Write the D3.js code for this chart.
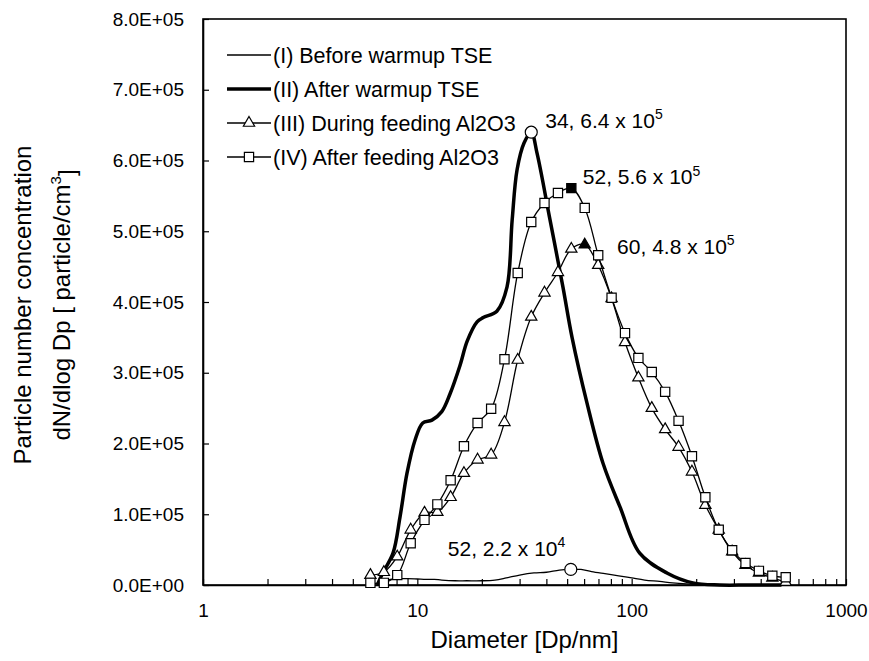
<!DOCTYPE html>
<html>
<head>
<meta charset="utf-8">
<script src="https://cdnjs.cloudflare.com/ajax/libs/d3/7.8.5/d3.min.js"></script>
<style>
  body { margin: 0; background: #fff; }
  text { font-family: Arial, "Liberation Sans", sans-serif; fill: #000; }
</style>
</head>
<body>
<div id="chart"></div>
<script>
// SMPS channel diameters (nm) used by the two marker series
var channels = [6.04, 6.98, 8.06, 9.31, 10.8, 12.4, 14.3, 16.5, 19.1, 22.1, 25.5, 29.4,
  34.0, 39.2, 45.3, 52.3, 60.4, 69.8, 80.6, 93.1, 107.5, 124.1, 143.3, 165.5, 191.1,
  220.7, 254.8, 294.3, 339.8, 392.4, 453.2, 523.3];

// (III) during feeding Al2O3
var duringFeeding = [0.14e5, 0.18e5, 0.40e5, 0.78e5, 1.02e5, 1.03e5, 1.24e5, 1.58e5, 1.77e5,
  1.84e5, 2.30e5, 3.18e5, 3.79e5, 4.13e5, 4.42e5, 4.75e5, 4.81e5, 4.52e5, 4.05e5, 3.43e5,
  2.93e5, 2.50e5, 2.20e5, 1.95e5, 1.60e5, 1.13e5, 0.78e5, 0.47e5, 0.28e5, 0.17e5, 0.10e5, 0.04e5];

// (IV) after feeding Al2O3
var afterFeeding = [0.03e5, 0.03e5, 0.14e5, 0.59e5, 0.92e5, 1.14e5, 1.48e5, 1.96e5, 2.29e5,
  2.49e5, 3.19e5, 4.41e5, 5.13e5, 5.40e5, 5.54e5, 5.61e5, 5.33e5, 4.66e5, 4.06e5, 3.56e5,
  3.21e5, 3.01e5, 2.73e5, 2.32e5, 1.82e5, 1.24e5, 0.78e5, 0.49e5, 0.31e5, 0.20e5, 0.13e5, 0.11e5];

// (I) before warmup TSE
var beforeDiam = [6.5, 7, 7.5, 8, 9, 10, 11, 12, 13, 15, 17, 20, 23, 26, 30, 35, 40, 46, 52,
  58, 65, 75, 87, 100, 115, 135, 155, 180, 210, 250, 300, 400, 550];
var beforeConc = [300, 6000, 8000, 9000, 9000, 8500, 8000, 8000, 7000, 6000, 6000, 6000, 7000,
  10000, 14000, 17000, 18000, 21000, 22000, 22000, 19000, 16000, 13000, 10000, 7000, 5000,
  3000, 1500, 500, 0, 0, 0, 0];

// (II) after warmup TSE
var warmDiam = [6.5, 6.9, 7.7, 8.3, 8.95, 9.76, 10.6, 11.7, 13.0, 14.2, 15.8, 17.1, 19.0, 20.3,
  23.5, 26.2, 27.7, 29.2, 31.5, 34, 36.2, 41.6, 47.8, 52.7, 61.9, 73.5, 88.3, 109, 146, 193,
  258, 350, 500];
var warmConc = [0, 0.17e5, 0.45e5, 0.96e5, 1.58e5, 2.05e5, 2.29e5, 2.33e5, 2.45e5, 2.70e5,
  3.10e5, 3.45e5, 3.72e5, 3.78e5, 3.87e5, 4.21e5, 5.16e5, 5.87e5, 6.25e5, 6.4e5, 6.1e5, 5.16e5,
  4.21e5, 3.5e5, 2.57e5, 1.72e5, 1.10e5, 0.45e5, 0.17e5, 0.03e5, 0, 0, 0];

var yTicks = [0, 1e5, 2e5, 3e5, 4e5, 5e5, 6e5, 7e5, 8e5];
var xLabels = [1, 10, 100, 1000];
var legendLabels = ["(I) Before warmup TSE", "(II) After warmup TSE",
  "(III) During feeding Al2O3", "(IV) After feeding Al2O3"];

// peak annotations: [diameter, value, text, exponent]
var peaks = [
  [34, 6.4e5, "34, 6.4 x 10", "5"],
  [52, 5.6e5, "52, 5.6 x 10", "5"],
  [60, 4.8e5, "60, 4.8 x 10", "5"],
  [52, 2.2e4, "52, 2.2 x 10", "4"]
];

var svgWidth = 869;
var svgHeight = 661;
var margin = { top: 19, right: 23, bottom: 76, left: 203 };
var width = svgWidth - margin.left - margin.right;
var height = svgHeight - margin.top - margin.bottom;

var svg = d3.select("#chart")
  .append("svg")
  .attr("width", svgWidth)
  .attr("height", svgHeight);

var chartGroup = svg.append("g")
  .attr("transform", `translate(${margin.left}, ${margin.top})`);

var x = d3.scaleLog().domain([1, 1000]).range([0, width]);
var y = d3.scaleLinear().domain([0, 8e5]).range([height, 0]);

// 8.0E+05 style labels
function sciLabel(v) {
  if (v === 0) return "0.0E+00";
  var e = Math.floor(Math.log10(v));
  var m = v / Math.pow(10, e);
  return m.toFixed(1) + "E+" + (e < 10 ? "0" + e : e);
}

// every 1..9 tick of each decade, only powers of ten labelled
var minorTicks = [];
[1, 10, 100].forEach(function(p) {
  for (var i = 1; i < 10; i++) minorTicks.push(p * i);
});
minorTicks.push(1000);

var bottomAxis = d3.axisBottom(x)
  .tickValues(minorTicks)
  .tickSizeInner(-6)
  .tickSizeOuter(0)
  .tickPadding(19)
  .tickFormat(d => xLabels.indexOf(d) >= 0 ? d : "");

var leftAxis = d3.axisLeft(y)
  .tickValues(yTicks)
  .tickSizeInner(-6)
  .tickSizeOuter(0)
  .tickPadding(19)
  .tickFormat(sciLabel);

var xAxis = chartGroup.append("g")
  .attr("transform", `translate(0, ${height})`)
  .call(bottomAxis);

var yAxis = chartGroup.append("g")
  .call(leftAxis);

[xAxis, yAxis].forEach(function(ax) {
  ax.selectAll("text").attr("font-size", "19px").attr("font-family", "Arial, 'Liberation Sans', sans-serif");
  ax.selectAll("line").attr("stroke", "#000").attr("stroke-width", 1.2);
  ax.select(".domain").attr("stroke", "#000").attr("stroke-width", 1.6);
});

// plot frame
chartGroup.append("rect")
  .attr("width", width)
  .attr("height", height)
  .attr("fill", "none")
  .attr("stroke", "#000")
  .attr("stroke-width", 1.6);

var smooth = d3.curveCatmullRom.alpha(0.5);

function pairs(xs, ys) {
  return xs.map((d, i) => [d, ys[i]]);
}

var line = d3.line()
  .x(d => x(d[0]))
  .y(d => y(d[1]))
  .curve(smooth);

// (I) thin line
chartGroup.append("path")
  .datum(pairs(beforeDiam, beforeConc))
  .attr("d", line)
  .attr("fill", "none")
  .attr("stroke", "#000")
  .attr("stroke-width", 1.3);

// (II) thick line
chartGroup.append("path")
  .datum(pairs(warmDiam, warmConc))
  .attr("d", line)
  .attr("fill", "none")
  .attr("stroke", "#000")
  .attr("stroke-width", 3.5);

var triangle = d3.symbol().type(d3.symbolTriangle).size(55);
var square = d3.symbol().type(d3.symbolSquare).size(85);

function markerSeries(values, shape, filledAt) {
  var data = pairs(channels, values);
  chartGroup.append("path")
    .datum(data)
    .attr("d", line)
    .attr("fill", "none")
    .attr("stroke", "#000")
    .attr("stroke-width", 1.3);

  chartGroup.append("g")
    .selectAll("path")
    .data(data)
    .enter()
    .append("path")
    .attr("d", shape)
    .attr("transform", d => `translate(${x(d[0])}, ${y(d[1])})`)
    .attr("fill", d => d[0] === filledAt ? "#000" : "#fff")
    .attr("stroke", "#000")
    .attr("stroke-width", 1.2);
}

markerSeries(duringFeeding, triangle, 60.4);
markerSeries(afterFeeding, square, 52.3);

// open circles on the two peaks without markers
chartGroup.selectAll(".peakCircle")
  .data([peaks[0], peaks[3]])
  .enter()
  .append("circle")
  .attr("cx", d => x(d[0]))
  .attr("cy", d => y(d[1]))
  .attr("r", 6)
  .attr("fill", "#fff")
  .attr("stroke", "#000")
  .attr("stroke-width", 1.2);

// annotation text offsets from their points
var labelOffsets = [[14, -12], [12, -12], [33, 1], [-123, -21]];

peaks.forEach(function(p, i) {
  var t = chartGroup.append("text")
    .attr("x", x(p[0]) + labelOffsets[i][0])
    .attr("y", y(p[1]) + labelOffsets[i][1])
    .attr("dy", "0.35em")
    .attr("font-size", "21px");
  t.append("tspan").text(p[2]);
  t.append("tspan")
    .attr("dy", "-0.6em")
    .attr("font-size", "14px")
    .text(p[3]);
});

// legend
var legend = chartGroup.append("g")
  .attr("transform", `translate(${227 - margin.left}, ${55 - margin.top})`);

legendLabels.forEach(function(label, i) {
  var row = legend.append("g").attr("transform", `translate(0, ${i * 34})`);
  row.append("line")
    .attr("x1", 0).attr("x2", 44)
    .attr("stroke", "#000")
    .attr("stroke-width", i === 1 ? 3.5 : 1.3);
  if (i === 2) row.append("path").attr("d", triangle).attr("transform", "translate(22,0)")
    .attr("fill", "#fff").attr("stroke", "#000").attr("stroke-width", 1.2);
  if (i === 3) row.append("path").attr("d", square).attr("transform", "translate(22,0)")
    .attr("fill", "#fff").attr("stroke", "#000").attr("stroke-width", 1.2);
  row.append("text")
    .attr("x", 46)
    .attr("dy", "0.35em")
    .attr("font-size", "21.5px")
    .text(label);
});

// axis titles
svg.append("text")
  .attr("x", margin.left + width / 2)
  .attr("y", 648)
  .attr("text-anchor", "middle")
  .attr("font-size", "24px")
  .text("Diameter [Dp/nm]");

var yTitle = svg.append("g")
  .attr("transform", "translate(0, 305) rotate(-90)");

yTitle.append("text")
  .attr("x", 0)
  .attr("y", 31)
  .attr("text-anchor", "middle")
  .attr("font-size", "24px")
  .text("Particle number concentration");

var yTitle2 = yTitle.append("text")
  .attr("x", 0)
  .attr("y", 70)
  .attr("text-anchor", "middle")
  .attr("font-size", "24px");
yTitle2.append("tspan").text("dN/dlog Dp [ particle/cm");
yTitle2.append("tspan").attr("dy", "-0.6em").attr("font-size", "15px").text("3");
yTitle2.append("tspan").attr("dy", "0.6em").text("]");
</script>
</body>
</html>
